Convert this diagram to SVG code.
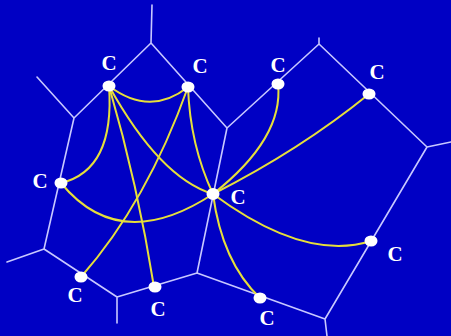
<svg xmlns="http://www.w3.org/2000/svg" width="451" height="336" viewBox="0 0 451 336">
<style>
.bg{fill:#0000c4}
.v{stroke:#c8c8ff;stroke-width:1.6;fill:none;stroke-linecap:round}
.y{stroke:#e6df3a;stroke-width:2;fill:none;stroke-linecap:round}
.d{fill:#ffffff}
.t{font-family:"Liberation Serif","Times New Roman",serif;font-weight:bold;font-size:21px;fill:#ffffff;text-anchor:middle}
</style>
<rect class="bg" x="0" y="0" width="451" height="336"/>
<g id="voronoi">
<path class="v" d="M152,5 L151,43 M151,43 L74,118 M151,43 L227,128 M37,77 L74,118 M74,118 L44,249 M44,249 L7,262 M44,249 L117,297 M117,297 L117,323 M117,297 L197,273 M197,273 L227,128 M227,128 L319,44 M319,38 L319,44 M319,44 L427,147 M427,147 L451,142 M427,147 L325,319 M197,273 L325,319 M325,319 L327,336"/>
</g>
<g id="connectors">
<path class="y" d="M109,86 Q150,117 188,87"/>
<path class="y" d="M109,86 Q115,170 61,183"/>
<path class="y" d="M109,86 Q160,178 213,194"/>
<path class="y" d="M109,86 Q138,186 154,287"/>
<path class="y" d="M188,87 Q147,202 81,277"/>
<path class="y" d="M188,87 Q190,145 213,194"/>
<path class="y" d="M61,183 Q120,255 213,194"/>
<path class="y" d="M278,84 Q284,138 213,194"/>
<path class="y" d="M369,94 Q300,150 213,194"/>
<path class="y" d="M213,194 Q305,262 371,241"/>
<path class="y" d="M213,194 Q222,262 260,298"/>
</g>
<g id="nA"><ellipse class="d" cx="109" cy="86" rx="6.5" ry="5.5"/><text class="t" x="109" y="70">C</text></g>
<g id="nB"><ellipse class="d" cx="188" cy="87" rx="6.5" ry="5.5"/><text class="t" x="200" y="73">C</text></g>
<g id="nD"><ellipse class="d" cx="278" cy="84" rx="6.5" ry="5.5"/><text class="t" x="278" y="72">C</text></g>
<g id="nE"><ellipse class="d" cx="369" cy="94" rx="6.5" ry="5.5"/><text class="t" x="377" y="79">C</text></g>
<g id="nF"><ellipse class="d" cx="61" cy="183" rx="6.5" ry="5.5"/><text class="t" x="40" y="188">C</text></g>
<g id="nG"><ellipse class="d" cx="213" cy="194" rx="6.5" ry="6"/><text class="t" x="238" y="204">C</text></g>
<g id="nH"><ellipse class="d" cx="371" cy="241" rx="6.5" ry="5.5"/><text class="t" x="395" y="261">C</text></g>
<g id="nI"><ellipse class="d" cx="81" cy="277" rx="6.5" ry="5.5"/><text class="t" x="75" y="302">C</text></g>
<g id="nJ"><ellipse class="d" cx="155" cy="287" rx="6.5" ry="5.5"/><text class="t" x="158" y="316">C</text></g>
<g id="nK"><ellipse class="d" cx="260" cy="298" rx="6.5" ry="5.5"/><text class="t" x="267" y="325">C</text></g>
</svg>
